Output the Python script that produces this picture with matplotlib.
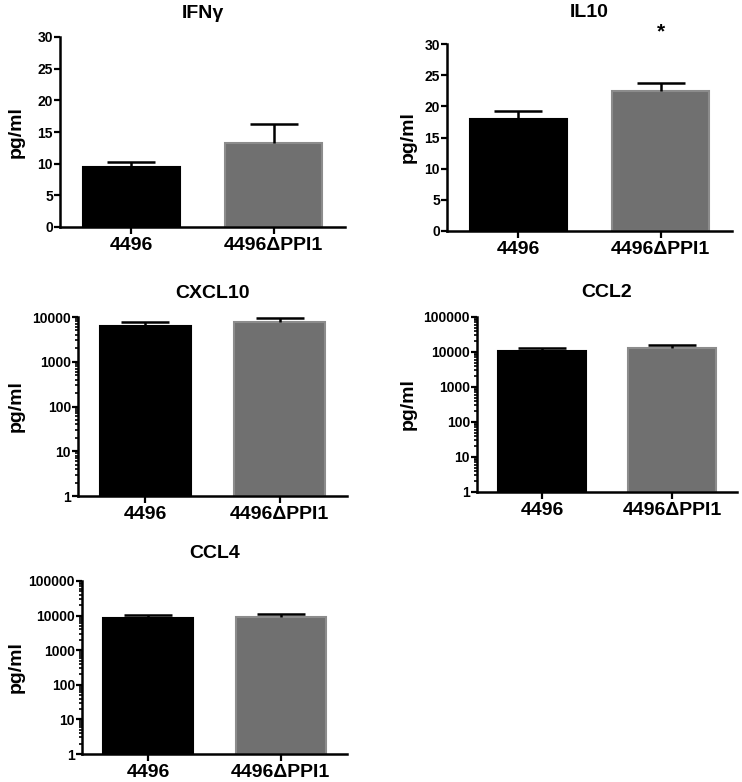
import matplotlib
matplotlib.use('Agg')
import matplotlib.pyplot as plt
from matplotlib import ticker

plt.rcParams['font.family'] = ['Liberation Sans', 'DejaVu Sans']
plt.rcParams['font.weight'] = 'bold'

groups = ['4496', '4496ΔPPI1']

ifng_mean = [9.5, 13.3]
ifng_err = [0.8, 3.0]
il10_mean = [17.9, 22.4]
il10_err = [1.3, 1.3]
cxcl10_mean = [6300, 7800]
cxcl10_err = [1500, 1800]
ccl2_mean = [10700, 12800]
ccl2_err = [2500, 3000]
ccl4_mean = [8500, 9300]
ccl4_err = [2000, 2000]

W, H = 742, 782
bar_colors = ['black', '#707070']
edge_colors = ['black', '#8c8c8c']

fig = plt.figure(figsize=(W / 100, H / 100), dpi=100)


def px_axes(l, r, t, b):
    return fig.add_axes([l / W, 1 - b / H, (r - l) / W, (b - t) / H])


def panel(box, title, mean, err, log, top, label_x, title_dy):
    l, r, t, b = box
    ax = px_axes(l, r, t, b)
    x = [0, 1]
    for i in range(2):
        ax.bar(x[i], mean[i], width=0.68, color=bar_colors[i],
               edgecolor=edge_colors[i], linewidth=1.5, zorder=2,
               bottom=1 if log else 0)
    eb = ax.errorbar(x, mean, yerr=[[0, 0], err], fmt='none', ecolor='black',
                     elinewidth=1.8, capsize=17, capthick=1.8, zorder=3)
    # only the upper cap is drawn
    eb[1][0].set_visible(False)
    ax.set_xlim(-0.5, 1.5)
    if log:
        ax.set_yscale('log')
        ax.set_ylim(1, top)
        ax.yaxis.set_major_locator(ticker.LogLocator(base=10, numticks=10))
        ax.yaxis.set_minor_locator(ticker.LogLocator(base=10, subs=range(2, 10), numticks=10))
        ax.yaxis.set_major_formatter(ticker.FuncFormatter(lambda v, p: f'{int(round(v))}'))
        ax.yaxis.set_minor_formatter(ticker.NullFormatter())
    else:
        ax.set_ylim(0, top)
        ax.set_yticks(range(0, top + 1, 5))
    ax.set_xticks(x)
    ax.set_xticklabels(groups, fontsize=14, fontweight='bold')
    for s in ['top', 'right']:
        ax.spines[s].set_visible(False)
    for s in ['left', 'bottom']:
        ax.spines[s].set_linewidth(1.8)
    ax.tick_params(axis='y', which='major', length=4, width=1.6, labelsize=10, pad=1)
    ax.tick_params(axis='y', which='minor', length=2.5, width=1.2)
    ax.tick_params(axis='x', length=5, width=1.6, pad=2)
    ax.set_ylabel('pg/ml', fontsize=14, fontweight='bold', va='center')
    ax.yaxis.set_label_coords((label_x - l) / (r - l), 0.5)
    ax.text(0.5, 1 + title_dy / (b - t), title, transform=ax.transAxes,
            ha='center', va='center', fontsize=14, fontweight='bold')
    return ax


panel((60, 345, 37, 227), 'IFNγ', ifng_mean, ifng_err, False, 30, 16, 23)
ax_il10 = panel((447, 732, 44, 231), 'IL10', il10_mean, il10_err, False, 30, 408, 32)
ax_il10.text(1, 31.9, '*', ha='center', va='center', fontsize=15,
             fontweight='bold', clip_on=False)
panel((78, 347, 317, 496), 'CXCL10', cxcl10_mean, cxcl10_err, True, 10000, 16, 24)
panel((477, 737, 317, 492), 'CCL2', ccl2_mean, ccl2_err, True, 100000, 408, 24)
panel((82, 347, 581, 754), 'CCL4', ccl4_mean, ccl4_err, True, 100000, 16, 28)

fig.savefig('out.png', dpi=100)
